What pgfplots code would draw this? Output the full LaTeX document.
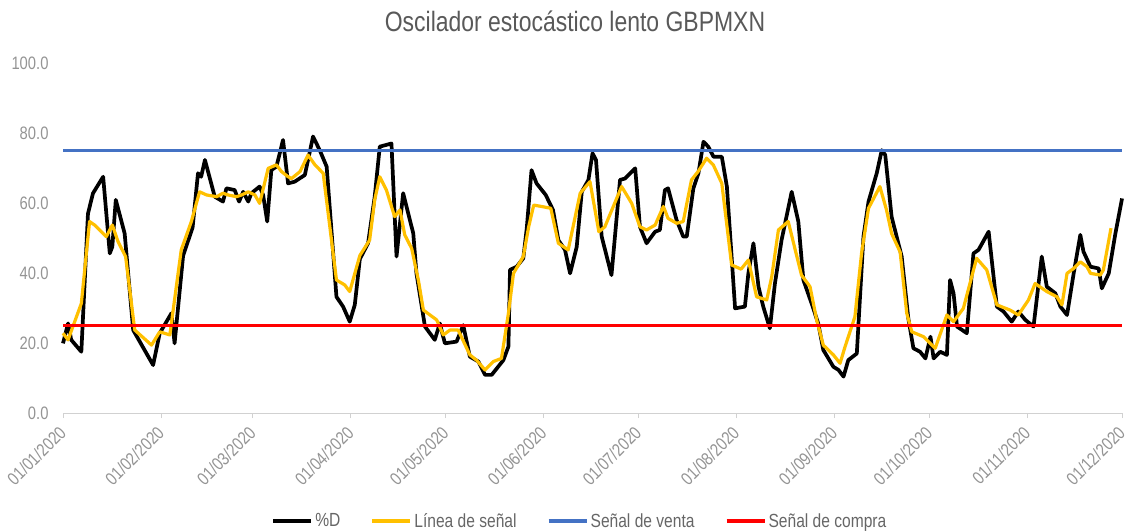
\documentclass[border=0pt]{standalone}
\usepackage{fontspec}
\setmainfont{Liberation Sans}[FakeStretch=0.82]
\usepackage{pgfplots}
\pgfplotsset{compat=1.18}
\definecolor{cYel}{HTML}{FFC000}
\definecolor{cBlue}{HTML}{4472C4}
\definecolor{cRed}{HTML}{FF0000}
\begin{document}
\begin{tikzpicture}
\begin{axis}[
  at={(63pt,118pt)}, anchor=south west,
  width=1059pt, height=350pt, scale only axis,
  xmin=0, xmax=335, ymin=0, ymax=100,
  separate axis lines,
  axis x line*=bottom, axis y line*=left,
  x axis line style={draw=black!18, line width=0.8pt, -},
  y axis line style={draw=none},
  xtick={0,31,60,91,121,152,182,213,244,274,305,335},
  xticklabels={01/01/2020,01/02/2020,01/03/2020,01/04/2020,01/05/2020,01/06/2020,01/07/2020,01/08/2020,01/09/2020,01/10/2020,01/11/2020,01/12/2020},
  ytick={0,20,40,60,80,100},
  yticklabels={0.0,20.0,40.0,60.0,80.0,100.0},
  tick align=outside,
  major tick length=5pt,
  xtick style={draw=black!18, line width=0.8pt},
  ytick style={draw=none},
  tick label style={font=\fontsize{18}{20}\selectfont, text=black!42},
  xticklabel style={rotate=45, anchor=east, xshift=-5pt, yshift=-8pt},
  yticklabel style={xshift=-6pt},
  legend columns=4,
  legend style={at={(axis description cs:0.488,0)}, anchor=center, yshift=-108pt,
    draw=none, fill=none, font=\fontsize{19}{21}\selectfont, text=black!60,
    /tikz/every even column/.append style={column sep=28pt}},
  legend cell align=left,
  legend image code/.code={\draw[#1, line width=4pt] (0pt,0pt) -- (38pt,0pt);},
  clip=false,
]
\addplot[black, line width=3.7pt, line join=round] coordinates {
(0,19.9) (1.6,25.6) (2.6,20.9) (5.8,17.5) (7.9,57) (9.5,62.8) (12.7,67.5) (14.8,45.6)
(15.6,47.5) (16.7,60.9) (19.5,51.3) (22.2,23.7) (28.5,13.7) (30.6,22.8) (34.3,28.5)
(35.3,19.9) (38,45) (41,53) (42.7,68.5) (43.7,67.5) (44.9,72.3) (48,61.8) (50.6,60.4)
(51.7,64.2) (54.3,63.7) (55.7,60.4) (57,63.2) (58.6,60.4) (59.6,62.8) (62.2,64.7)
(63.3,62.3) (64.6,54.7) (65.9,69.4) (67.5,70.4) (69.6,78) (71.2,65.6) (73.3,66.1)
(76.5,68) (79.1,79) (81.2,75.1) (83.4,70.4) (86.5,33.2) (88.6,30.4) (90.7,26.1)
(92.3,30.9) (93.9,44) (96.5,48.5) (98.6,61.8) (100.2,76.1) (103.9,77) (105.5,44.7)
(107.6,62.8) (110.8,51.3) (111.8,39.9) (114.5,24.7) (117.6,20.9) (119.2,25.6)
(120.8,19.9) (124.5,20.4) (126.6,25.1) (128.7,16.1) (131.4,14.7) (133.5,10.9)
(135.6,10.9) (139.3,15.1) (140.9,19) (141.4,40.9) (143.5,41.8) (145.6,44.2)
(146.7,52.8) (148.2,69.4) (149.8,65.6) (152.7,62.3) (155,58) (156.7,49.4) (158.8,46.6)
(160.4,39.9) (162.5,47.5) (164.1,63.2) (166.2,66.6) (167.5,74.2) (168.6,72.3)
(170.4,50.4) (173.5,39.4) (176.2,66.6) (177.8,67) (181,69.9) (182.5,53.2) (184.6,48.5)
(187.3,51.8) (188.8,52.3) (190.4,63.7) (191.4,64.2) (194.1,55.1) (196.2,50.4)
(197.3,50.4) (199.4,64.2) (201,68.5) (202.6,77.5) (204.1,76.1) (205.8,73.2)
(208.4,73.2) (210,64.7) (212.6,29.9) (215.7,30.4) (216.8,39.9) (218.4,48.5) (220,36.1)
(221.5,30.4) (223.6,24.2) (225.2,37) (227.3,49.4) (230.5,63.2) (232.6,54.7) (234.2,38)
(236.8,31.3) (238.9,25.6) (240.5,18) (243.7,13.2) (245.3,12.3) (246.9,10.4)
(248.4,15.1) (251.1,17) (253.2,50.4) (254.8,60.4) (257.4,68.5) (259,75.1) (260.1,73.7)
(262.1,56.1) (263.7,50.4) (265.3,44.7) (267.4,27) (269,18.5) (271.1,17.5) (272.8,15.6)
(274.4,21.8) (275.4,15.6) (277.5,17.5) (279.6,16.6) (280.6,38) (281.7,34.2)
(282.8,24.7) (285.9,22.8) (288,45.6) (289.6,46.6) (292.8,51.8) (295.4,30.4) (297.5,29)
(300.1,26.1) (302.2,29) (304.4,26.6) (307,24.7) (309.6,44.7) (311.2,36.1) (313.9,34.2)
(315.5,30.4) (317.6,28) (319.7,39.9) (321.8,50.9) (322.8,46.1) (325,41.8) (327.6,41.3)
(328.6,35.6) (330.8,39.9) (332.9,51.3) (335,61.3)
};
\addlegendentry{\%D}
\addplot[cYel, line width=3.2pt, line join=round] coordinates {
(0,22.8) (1.6,20.9) (5.8,31.3) (8.4,54.7) (10,53.7) (13.7,50.4) (15.6,53.7) (17.4,49)
(19.8,44.7) (22.7,23.7) (28,19.4) (30.6,23.2) (33.8,22.3) (37.4,46.6) (40.6,54.7)
(43.2,63.2) (45.4,62.3) (48.6,61.8) (50.6,62.8) (52.2,62.3) (54.9,61.8) (56.5,62.3)
(58.6,63.2) (60.7,62.3) (62.2,59.9) (64.9,69.9) (67.5,70.9) (69.1,69) (71.2,67.5)
(72.3,67) (75,69) (77.5,73.7) (79.7,70.9) (82.3,68.5) (86.5,38) (89.1,36.6) (90.7,34.7)
(93.9,45) (97,49.4) (98.6,60.9) (100.2,67.5) (102.3,63.7) (104.9,56.1) (106.6,58)
(108.1,50.9) (110.3,47) (112.4,38) (114,29.4) (116.1,28) (118.2,26.6) (120.3,22.3)
(122.4,23.7) (125,23.7) (128.7,16.6) (130.8,15.1) (133.5,12.3) (136.1,14.7)
(138.7,15.6) (140.9,28.5) (142.5,39.9) (145.6,44.7) (147.3,53.2) (148.9,59.4)
(151.4,59) (154.3,58.5) (156.7,48.5) (159.8,46.6) (163.6,62.8) (166.7,66.1)
(169.5,51.8) (171.4,53.2) (176.7,64.7) (179.9,59.9) (182.5,53.2) (184.6,52.3)
(187.3,53.7) (189.9,59) (191.4,55.6) (194.1,54.2) (196.2,54.7) (198.8,66.6) (200.9,69)
(203.6,72.8) (205.7,70.9) (208.4,65.6) (211.5,42.3) (214.5,41.1) (216.8,43.7)
(219.4,33.2) (222.6,32.3) (224.2,39) (226.3,52.3) (229.4,54.7) (233.6,39.4)
(236.3,36.1) (238.4,26.6) (240.5,19.4) (243.7,16.6) (245.8,14.2) (247.4,19)
(250.5,27.5) (252.6,45.6) (254.8,58.5) (258.4,64.7) (260.5,58) (262.1,51.3) (264.8,46)
(266.9,28.5) (268.5,23.2) (272.2,21.8) (275.9,18.5) (279.6,28) (281.7,26.1)
(284.8,29.9) (289,44.2) (292.2,40.9) (295.4,30.9) (299.6,29.4) (302.2,28) (305.4,32.3)
(307.5,37) (311.2,34.7) (314.4,33.2) (316,30.9) (317.6,39.9) (319.7,41.3) (321.8,43.2)
(323.9,41.8) (325,39.9) (328.1,39.4) (329.1,40.9) (331.5,52.8)
};
\addlegendentry{Línea de señal}
\addplot[cBlue, line width=3pt] coordinates {(0,75) (335,75)};
\addlegendentry{Señal de venta}
\addplot[cRed, line width=3pt] coordinates {(0,25) (335,25)};
\addlegendentry{Señal de compra}
\end{axis}
\node[anchor=base, font=\fontsize{28}{30}\selectfont, text=black!65] at (575pt,499pt) {Oscilador estocástico lento GBPMXN};
\pgfresetboundingbox
\path (0pt,0pt) rectangle (1128pt,531pt);
\end{tikzpicture}
\end{document}
